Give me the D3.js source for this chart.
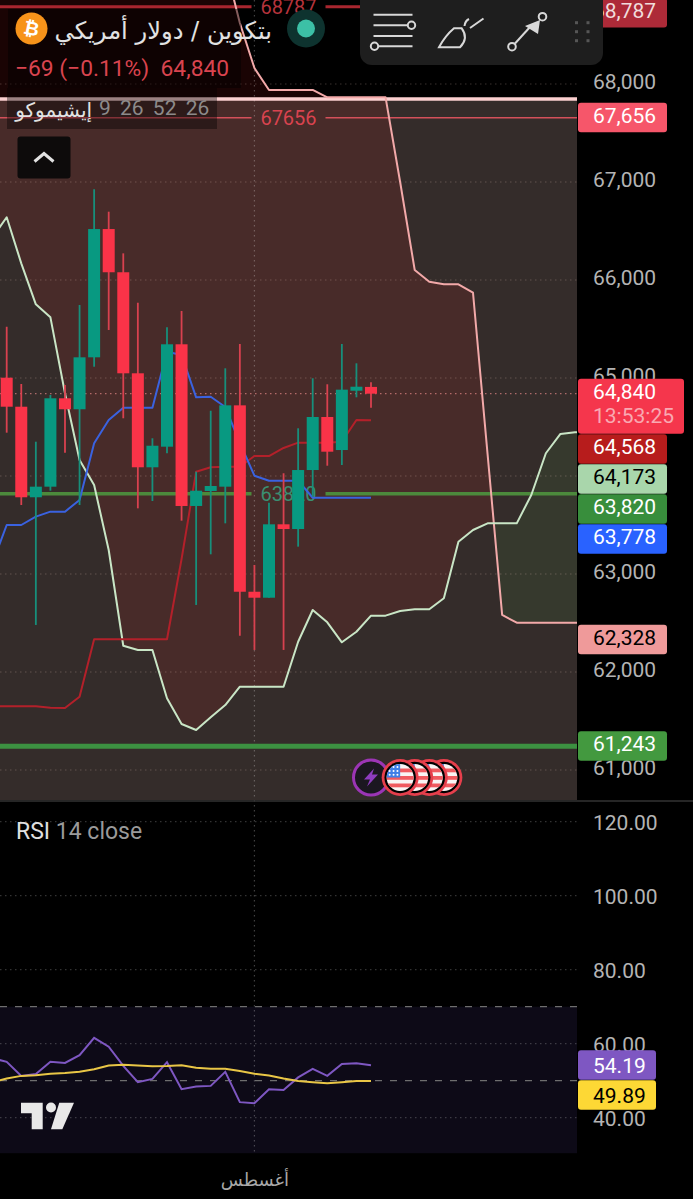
<!DOCTYPE html>
<html>
<head>
<meta charset="utf-8">
<script src="https://cdn.jsdelivr.net/npm/d3@7"></script>
<style>
  html, body { margin: 0; padding: 0; background: #000; overflow: hidden; }
  svg { display: block; font-family: Roboto, sans-serif; }
  .ar { font-family: "DejaVu Sans", sans-serif; }
</style>
</head>
<body>
<svg id="chart" width="693" height="1199"></svg>
<script>
// bars are numbered from 0, bar 25 is the live one
const bars = d3.range(0, 26)
const opens = [65003, 64707, 63783, 63891, 64793, 64681, 65211, 66520, 66079, 65048, 64089, 64299, 65344, 63694, 63847, 63891, 64721, 62819, 62758, 63507, 63459, 64061, 64602, 64265, 64870, 64909]
const highs = [65523, 64939, 64350, 64827, 64929, 65745, 66926, 66697, 66272, 65768, 64385, 65517, 65684, 64044, 64666, 65099, 65347, 63092, 63728, 64028, 64487, 64997, 64936, 65347, 65150, 64956]
const lows = [64442, 63704, 62480, 63850, 64238, 63704, 65115, 65490, 64589, 63670, 63745, 64232, 63544, 62684, 63201, 63517, 62370, 62225, 62758, 62225, 63279, 63789, 64105, 64112, 64803, 64697]
const closes = [64707, 63783, 63891, 64793, 64681, 65211, 66520, 66079, 65048, 64089, 64309, 65344, 63694, 63850, 63898, 64721, 62819, 62758, 63507, 63459, 64061, 64602, 64248, 64881, 64911, 64840]

// ichimoku, these start one bar left of the screen (bar -1)
const firstBar = -1
const tenkan = [63102, 63500, 63500, 63585, 63636, 63636, 63755, 64334, 64571, 64697, 64697, 64697, 65268, 65235, 64803, 64809, 64704, 64337, 64003, 63952, 63952, 63952, 63778, 63778, 63778, 63778, 63778]
const kijun = [61650, 61650, 61650, 61650, 61636, 61633, 61748, 62334, 62334, 62334, 62334, 62334, 62334, 63153, 64044, 64089, 64095, 64095, 64204, 64204, 64286, 64340, 64340, 64340, 64350, 64571, 64568]
const spanA = [66429, 66640, 66170, 65752, 65619, 64844, 64163, 63908, 63245, 62268, 62225, 62225, 61732, 61469, 61408, 61538, 61663, 61850, 61850, 61850, 61850, 62309, 62633, 62507, 62303, 62411, 62575, 62575, 62622, 62640, 62640, 62752, 63330, 63449, 63517, 63517, 63517, 63806, 64232, 64429, 64446, 64449]
const spanB = [69470, 69470, 69470, 69470, 69470, 69470, 69470, 69470, 69470, 69470, 69470, 69470, 69470, 69470, 69470, 69470, 69214, 68622, 68163, 67939, 67939, 67939, 67939, 67864, 67864, 67864, 67864, 67864, 67000, 66102, 65983, 65956, 65956, 65870, 64224, 62582, 62503, 62503, 62503, 62503, 62503, 62503]

const rsi = [56.1, 55.1, 51.3, 51.8, 55.1, 54.8, 56.9, 61.6, 59.2, 54.0, 49.6, 50.5, 55.0, 47.7, 48.4, 48.6, 52.4, 44.2, 43.9, 47.7, 47.5, 50.9, 53.2, 51.3, 54.5, 54.7, 54.19]
const rsiMa = [49.6, 50.6, 51.3, 51.5, 51.9, 52.1, 52.4, 53.1, 54.1, 54.3, 54.1, 53.9, 54.0, 54.2, 53.5, 53.2, 53.2, 52.6, 51.9, 51.4, 50.6, 49.9, 49.6, 49.3, 49.6, 49.9, 49.89]

const priceTicks = [61000, 62000, 63000, 64000, 65000, 66000, 67000, 68000]
const rsiTicks = [40, 60, 80, 100, 120]
const rsiBandLines = [50, 70]
const priceTags = [68787, 67656, 64840, 64568, 64173, 63820, 63778, 62328, 61243]
const priceTagTypes = ["high", "level", "last", "kijun", "spanA", "green", "tenkan", "spanB", "green2"]
const rsiTags = [54.19, 49.89]
const rectangleTop = 67847
const lastPrice = 64840
const levelLines = [68787, 67656, 63820, 61243]
const levelTypes = ["high", "level", "mid", "low"]
const monthBar = 17
const monthLabel = "أغسطس"
const eventBars = [25, 27, 28, 29, 30]

const paneW = 577, paneH = 800

const x = d3.scaleLinear().domain([0, 25]).range([6.7, 371])
const y = d3.scaleLinear().domain([67000, 61000]).range([182, 770])
const yRsi = d3.scaleLinear().domain([50, 70]).range([1080.7, 1006.7])

const svg = d3.select("#chart")
svg.append("defs").append("clipPath").attr("id", "pane")
   .append("rect").attr("width", paneW).attr("height", paneH)
svg.select("defs").append("clipPath").attr("id", "flag")
   .append("circle").attr("r", 13.5)

const paneBack = svg.append("g").attr("clip-path", "url(#pane)")

// the drawn rectangle, it fills the pane from its top edge down
paneBack.append("rect").attr("x", 0).attr("y", y(rectangleTop))
    .attr("width", paneW).attr("height", paneH - y(rectangleTop)).attr("fill", "#342c2a")

// cloud, split at the crossing of the two spans
const cloud = spanA.map((a, i) => ({ bar: i + firstBar, a: a, b: spanB[i] }))
const crossAt = cloud.findIndex(d => d.a > d.b)
const before = cloud[crossAt - 1], after = cloud[crossAt]
const t = (before.b - before.a) / ((before.b - before.a) + (after.a - after.b))
const crossPoint = { bar: before.bar + t, a: before.a + t * (after.a - before.a), b: before.b + t * (after.b - before.b) }
const cloudArea = d3.area().x(d => x(d.bar)).y0(d => y(d.a)).y1(d => y(d.b))
paneBack.append("path").attr("d", cloudArea(cloud.slice(0, crossAt).concat(crossPoint)))
    .attr("fill", "rgb(255,40,40)").attr("fill-opacity", 0.1)
paneBack.append("path").attr("d", cloudArea([crossPoint].concat(cloud.slice(crossAt))))
    .attr("fill", "rgb(76,175,80)").attr("fill-opacity", 0.1)

// rsi band goes under the grid
svg.append("rect").attr("x", 0).attr("y", yRsi(70)).attr("width", paneW).attr("height", yRsi(30) - yRsi(70) - 1.5).attr("fill", "#0d0a17")

// grid
const grid = svg.append("g").attr("fill", "none").attr("stroke-dasharray", "1.5 3.5")
priceTicks.forEach(p => {
  grid.append("line").attr("x1", 0).attr("x2", paneW).attr("y1", y(p)).attr("y2", y(p))
      .attr("stroke", "rgba(255,225,215,0.22)").attr("stroke-width", 1.2)
})
rsiTicks.forEach(v => {
  grid.append("line").attr("x1", 0).attr("x2", paneW).attr("y1", yRsi(v)).attr("y2", yRsi(v))
      .attr("stroke", "rgba(255,255,255,0.2)").attr("stroke-width", 1.2)
})
grid.append("line").attr("x1", x(monthBar)).attr("x2", x(monthBar)).attr("y1", 0).attr("y2", 1153)
    .attr("stroke", "rgba(255,255,255,0.25)").attr("stroke-width", 1.2)
grid.append("line").attr("x1", 0).attr("x2", paneW).attr("y1", y(lastPrice)).attr("y2", y(lastPrice))
    .attr("stroke", "rgba(255,150,150,0.6)").attr("stroke-width", 1.2)

const pane = svg.append("g").attr("clip-path", "url(#pane)")

// horizontal levels, three of them have their value written on the line
const levelStyle = {
  high: { color: "#a8262f", w: 3, text: "#b5333c" },
  level: { color: "#d4505a", w: 1.6, text: "#d9434f" },
  mid: { color: "#4c8a3c", w: 3.5, text: "#3a8f72" },
  low: { color: "#3c9141", w: 5 }
}
const gapLeft = 251.5, gapRight = 325.5
levelLines.forEach((p, i) => {
  const s = levelStyle[levelTypes[i]]
  const segs = s.text ? [[0, gapLeft], [gapRight, paneW]] : [[0, paneW]]
  segs.forEach(seg => {
    pane.append("line").attr("x1", seg[0]).attr("x2", seg[1]).attr("y1", y(p)).attr("y2", y(p))
        .attr("stroke", s.color).attr("stroke-width", s.w)
  })
  if (s.text) {
    pane.append("text").attr("x", (gapLeft + gapRight) / 2).attr("y", y(p) + 7.5)
        .attr("text-anchor", "middle").attr("font-size", 20).attr("fill", s.text).text(p)
  }
})

// rectangle top edge
pane.append("line").attr("x1", 0).attr("x2", paneW).attr("y1", y(rectangleTop)).attr("y2", y(rectangleTop))
    .attr("stroke", "#fbd0d0").attr("stroke-width", 3.5)

const line = d3.line().x((d, i) => x(i + firstBar)).y(d => y(d))
const addLine = (data, color) => pane.append("path").attr("d", line(data)).attr("fill", "none")
    .attr("stroke", color).attr("stroke-width", 2).attr("stroke-linejoin", "round")
addLine(spanB, "#f2a9a9")
addLine(spanA, "#c9e6c6")
addLine(kijun, "#b3202a")
addLine(tenkan, "#3a62e0")

// candles
const candle = pane.selectAll("g.candle").data(bars).enter().append("g").attr("class", "candle")
const candleColor = i => closes[i] >= opens[i] ? "#089981" : "#fa3348"
const wickColor = i => closes[i] >= opens[i] ? "#178f7b" : "#d8414f"
candle.append("line").attr("x1", i => x(i)).attr("x2", i => x(i))
      .attr("y1", i => y(highs[i])).attr("y2", i => y(lows[i]))
      .attr("stroke", wickColor).attr("stroke-width", 1.8)
candle.append("rect").attr("x", i => x(i) - 6).attr("width", 12)
      .attr("y", i => y(Math.max(opens[i], closes[i])))
      .attr("height", i => Math.abs(y(opens[i]) - y(closes[i])))
      .attr("fill", candleColor)

// events under the candles
const flagAt = (g) => {
  g.append("circle").attr("r", 18.5).attr("fill", "#e63f4c")
  g.append("circle").attr("r", 15.7).attr("fill", "#000")
  const f = g.append("g").attr("clip-path", "url(#flag)")
  f.append("rect").attr("x", -14).attr("y", -14).attr("width", 28).attr("height", 28).attr("fill", "#f9f4f4")
  d3.range(0, 4).forEach(k => f.append("rect").attr("x", -14).attr("y", -9 + k * 7.5).attr("width", 28).attr("height", 3.8).attr("fill", "#f05a60"))
  f.append("rect").attr("x", -14).attr("y", -14).attr("width", 14).attr("height", 14).attr("fill", "#3f7fe8")
  d3.range(0, 3).forEach(a => d3.range(0, 3).forEach(b => {
    f.append("circle").attr("cx", -10.5 + a * 3.9).attr("cy", -10.5 + b * 3.9).attr("r", 1).attr("fill", "#fff")
  }))
}
const eventY = 777.5
const bolt = svg.append("g").attr("transform", `translate(${x(eventBars[0])},${eventY})`)
bolt.append("circle").attr("r", 17.5).attr("fill", "#1b1720").attr("stroke", "#9c35b5").attr("stroke-width", 3)
bolt.append("path").attr("d", "M3,-9 L-7,2 L-1,2 L-4,9 L7,-3 L1,-3 Z").attr("fill", "#8e3cc0")
eventBars.slice(1).reverse().forEach(b => {
  flagAt(svg.append("g").attr("transform", `translate(${x(b)},${eventY})`))
})

// rsi lines
rsiBandLines.forEach(v => {
  svg.append("line").attr("x1", 0).attr("x2", paneW).attr("y1", yRsi(v)).attr("y2", yRsi(v))
     .attr("stroke", "#6e6e6e").attr("stroke-width", 1.3).attr("stroke-dasharray", "7 8")
})
const rsiLine = d3.line().x((d, i) => x(i + firstBar)).y(d => yRsi(d))
svg.append("path").attr("d", rsiLine(rsi)).attr("fill", "none").attr("stroke", "#7e57c2").attr("stroke-width", 2)
svg.append("path").attr("d", rsiLine(rsiMa)).attr("fill", "none").attr("stroke", "#e9c646").attr("stroke-width", 2)

// pane divider
svg.append("line").attr("x1", 0).attr("x2", 693).attr("y1", 801).attr("y2", 801).attr("stroke", "#333").attr("stroke-width", 1.5)

// axes
const styleAxis = (g) => {
  g.select(".domain").remove()
  g.selectAll(".tick line").remove()
  g.selectAll("text").attr("font-size", 21).attr("font-family", "Roboto, sans-serif").attr("fill", "#b4b4b4")
}
svg.append("g").attr("transform", `translate(${paneW},-2)`)
   .call(d3.axisRight(y).tickValues(priceTicks).tickFormat(d3.format(",")).tickSize(0).tickPadding(16))
   .call(styleAxis)
svg.append("g").attr("transform", `translate(${paneW},1.5)`)
   .call(d3.axisRight(yRsi).tickValues(rsiTicks).tickFormat(d3.format(".2f")).tickSize(0).tickPadding(16))
   .call(styleAxis)
svg.append("g").attr("transform", "translate(0,1173)")
   .call(d3.axisBottom(x).tickValues([monthBar]).tickFormat(() => monthLabel).tickSize(0).tickPadding(0))
   .call(styleAxis)
   .selectAll("text").attr("font-family", "DejaVu Sans, sans-serif").attr("font-size", 18).attr("fill", "#a8a8a8")

// price tags stacked so they do not overlap
const tagStyle = {
  high: { fill: "#ad2a38", text: "#f1dcdc", w: 89 },
  level: { fill: "#f6566a", text: "#fff", w: 89 },
  last: { fill: "#f5364c", text: "#fff", w: 106, h: 55 },
  kijun: { fill: "#b71c1c", text: "#fff", w: 89 },
  spanA: { fill: "#a9d6ab", text: "#000", w: 89 },
  green: { fill: "#388e3c", text: "#fff", w: 89 },
  tenkan: { fill: "#2962ff", text: "#fff", w: 89 },
  spanB: { fill: "#ef9a9a", text: "#000", w: 89 },
  green2: { fill: "#43993f", text: "#fff", w: 89 },
  rsi: { fill: "#7e57c2", text: "#fff", w: 78 },
  rsiMa: { fill: "#fdd835", text: "#000", w: 78 }
}
const drawTags = (values, types, scale, fmt, textY) => {
  let bottom = -2.5
  values.forEach((v, i) => {
    const s = tagStyle[types[i]]
    const h = s.h || 29.5
    const top = Math.max(scale(v) - 15, bottom + 0.5)
    bottom = top + h
    svg.append("rect").attr("x", 578).attr("y", top).attr("width", s.w).attr("height", h).attr("rx", 3).attr("fill", s.fill)
    svg.append("text").attr("x", 593).attr("y", top + textY).attr("font-size", 21).attr("fill", s.text).text(fmt(v))
    if (types[i] === "last") {
      svg.append("text").attr("x", 593).attr("y", top + textY + 24).attr("font-size", 21).attr("fill", "#f9a9b2").text("13:53:25")
    }
  })
}
drawTags(priceTags, priceTagTypes, y, d3.format(","), 20)
drawTags(rsiTags, ["rsi", "rsiMa"], yRsi, d3.format(".2f"), 22.5)

// legend overlay
svg.append("rect").attr("x", 8).attr("y", 9).attr("width", 233).attr("height", 79).attr("fill", "rgba(0,0,0,0.45)")
svg.append("rect").attr("x", 7).attr("y", 88).attr("width", 210).attr("height", 41).attr("fill", "rgba(0,0,0,0.38)")
svg.append("circle").attr("cx", 31.5).attr("cy", 28.5).attr("r", 16).attr("fill", "#f7931a")
svg.append("text").attr("x", 31.5).attr("y", 35).attr("text-anchor", "middle").attr("font-size", 19).attr("font-weight", 700)
   .attr("fill", "#fff").attr("class", "ar").attr("transform", "rotate(12 31.5 28.5)").text("₿")
svg.append("text").attr("class", "ar").attr("x", 272).attr("y", 39).attr("direction", "rtl").attr("text-anchor", "start")
   .attr("font-size", 24.2).attr("fill", "#e2e2e2").text("بتكوين / دولار أمريكي")
svg.append("text").attr("x", 15).attr("y", 75.5).attr("font-size", 22.8).attr("fill", "#d9444f").attr("xml:space", "preserve")
   .text("−69 (−0.11%)  64,840")
svg.append("text").attr("class", "ar").attr("x", 92).attr("y", 117).attr("direction", "rtl").attr("text-anchor", "start")
   .attr("font-size", 20).attr("fill", "#e2e2e2").text("إيشيموكو")
svg.append("text").attr("x", 99).attr("y", 114.5).attr("font-size", 21).attr("fill", "#8d8a8a").attr("word-spacing", 4)
   .text("9 26 52 26")

// collapse button
svg.append("rect").attr("x", 17.5).attr("y", 136.5).attr("width", 53).attr("height", 42).attr("rx", 3).attr("fill", "#0d0b0b")
svg.append("path").attr("d", "M34.5,161.5 L44,153.5 L53.5,161.5").attr("fill", "none").attr("stroke", "#e2e2e2").attr("stroke-width", 3)

// market status dot
svg.append("circle").attr("cx", 306).attr("cy", 28.5).attr("r", 19).attr("fill", "#0e332f")
svg.append("circle").attr("cx", 306).attr("cy", 28.5).attr("r", 9).attr("fill", "#3cc0a6")

// drawing toolbar
svg.append("rect").attr("x", 360).attr("y", -12).attr("width", 243).attr("height", 77).attr("rx", 12).attr("fill", "#1e1e1e")
const tool = svg.append("g").attr("fill", "none").attr("stroke", "#d8d8d8").attr("stroke-width", 2)
tool.append("path").attr("d", "M373.5,14.7 H412.5 M373.5,25.3 H408 M373.5,36 H412.5 M378,46.3 H412.5")
tool.append("circle").attr("cx", 411.5).attr("cy", 25.3).attr("r", 3.7)
tool.append("circle").attr("cx", 374.5).attr("cy", 46.3).attr("r", 3.7)
tool.append("path").attr("d", "M439,47.3 L460,47.3 Q469,38 461.7,28.3 L454,28.3 Q445,36 439,47.3 Z")
tool.append("path").attr("d", "M464.5,26 Q465,21 469,19 M470,28 L483.5,18.5")
tool.append("path").attr("d", "M515,43.5 L530,27")
tool.append("circle").attr("cx", 512).attr("cy", 46.7).attr("r", 3.8)
tool.append("circle").attr("cx", 542.5).attr("cy", 16.7).attr("r", 3.8)
svg.append("path").attr("d", "M525,26 L540,20 L538,34 Z").attr("fill", "#d8d8d8")
const dragX = [576.5, 588], dragY = [22.7, 31.7, 40.7]
dragX.forEach(a => dragY.forEach(b => {
  svg.append("rect").attr("x", a - 1.5).attr("y", b - 1.5).attr("width", 3).attr("height", 3).attr("fill", "#565656")
}))

// rsi legend
const rsiTitle = svg.append("text").attr("x", 16).attr("y", 838.5).attr("font-size", 23).attr("fill", "#9a9a9a").attr("xml:space", "preserve")
rsiTitle.append("tspan").attr("fill", "#e0e0e0").text("RSI ")
rsiTitle.append("tspan").text("14 close")

// logo
const logo = svg.append("g").attr("fill", "#e8e8e8")
logo.append("path").attr("d", "M21,1102.7 H42.7 V1129.3 H31.7 V1113.3 H21 Z")
logo.append("circle").attr("cx", 51).attr("cy", 1107.5).attr("r", 5)
logo.append("path").attr("d", "M59.3,1102.7 H74 L62.3,1129.3 H51 Z")
</script>
</body>
</html>
